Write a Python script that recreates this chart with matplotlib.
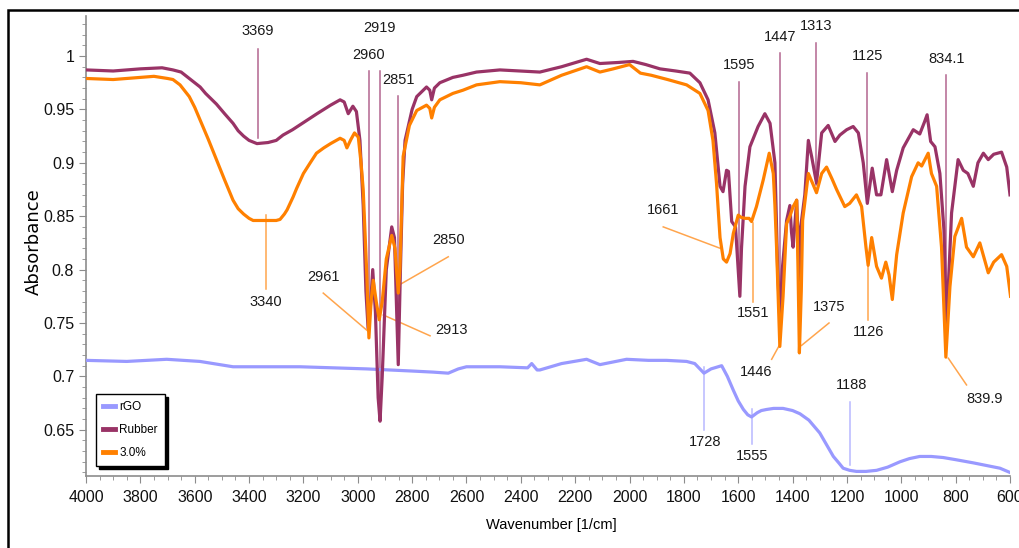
import matplotlib
matplotlib.use("Agg")
import matplotlib.pyplot as plt
from matplotlib import font_manager
from matplotlib.patches import Rectangle
from matplotlib.ticker import MultipleLocator

# narrow font if we have one, else Arial-like
have = {f.name for f in font_manager.fontManager.ttflist}
main_font = 'Liberation Sans Narrow' if 'Liberation Sans Narrow' in have else 'Liberation Sans'
plt.rcParams['font.family'] = [main_font, 'DejaVu Sans']

# --- data (wavenumber [1/cm], absorbance) ---
rgo_wn = [4000, 3850, 3703, 3581, 3459, 3213, 2967, 2800, 2723, 2667, 2630, 2600,
          2477, 2375, 2360, 2340, 2330, 2250, 2158, 2109, 2011, 1930, 1864, 1790,
          1760, 1726, 1700, 1661, 1640, 1618, 1600, 1581, 1565, 1551, 1530, 1515,
          1496, 1470, 1435, 1400, 1373, 1340, 1300, 1275, 1250, 1230, 1214, 1190,
          1165, 1130, 1091, 1050, 1005, 970, 932, 890, 846, 800, 735, 637, 600]
rgo_abs = [0.715, 0.714, 0.716, 0.714, 0.709, 0.709, 0.707, 0.705, 0.704, 0.703, 0.707, 0.709,
           0.709, 0.708, 0.712, 0.706, 0.706, 0.712, 0.716, 0.711, 0.716, 0.715, 0.715, 0.714,
           0.712, 0.703, 0.707, 0.710, 0.700, 0.687, 0.677, 0.669, 0.664, 0.662, 0.666, 0.668,
           0.669, 0.670, 0.670, 0.668, 0.665, 0.659, 0.647, 0.636, 0.625, 0.619, 0.614, 0.612,
           0.611, 0.611, 0.612, 0.615, 0.620, 0.623, 0.625, 0.625, 0.624, 0.622, 0.619, 0.614, 0.610]

rubber_wn = [4000, 3900, 3800, 3720, 3680, 3650, 3620, 3580, 3560, 3520, 3490, 3459,
             3440, 3420, 3400, 3371, 3330, 3300, 3275, 3240, 3210, 3180, 3150, 3100,
             3065, 3050, 3035, 3018, 3005, 2992, 2980, 2970, 2962, 2952, 2945, 2935,
             2925, 2918, 2910, 2895, 2875, 2865, 2858, 2851, 2843, 2835, 2826, 2800,
             2783, 2747, 2735, 2728, 2718, 2698, 2650, 2613, 2563, 2477, 2400, 2330,
             2250, 2158, 2109, 2040, 1987, 1940, 1888, 1830, 1778, 1741, 1711, 1686,
             1667, 1656, 1643, 1636, 1624, 1610, 1600, 1594, 1588, 1575, 1557, 1527,
             1502, 1483, 1465, 1455, 1447, 1438, 1422, 1410, 1404, 1398, 1385, 1380,
             1376, 1370, 1355, 1342, 1330, 1312, 1293, 1269, 1244, 1226, 1201, 1177,
             1158, 1140, 1125, 1115, 1107, 1091, 1075, 1054, 1033, 1017, 993, 956,
             932, 915, 905, 892, 876, 858, 843, 834, 826, 815, 791, 772,
             755, 735, 718, 698, 680, 660, 631, 612, 600]
rubber_abs = [0.987, 0.986, 0.988, 0.989, 0.987, 0.985, 0.979, 0.971, 0.965, 0.955, 0.946, 0.937,
              0.930, 0.925, 0.921, 0.918, 0.919, 0.921, 0.926, 0.931, 0.936, 0.941, 0.946, 0.954,
              0.959, 0.957, 0.946, 0.953, 0.948, 0.921, 0.860, 0.780, 0.745, 0.770, 0.800, 0.760,
              0.680, 0.658, 0.700, 0.800, 0.840, 0.830, 0.770, 0.711, 0.800, 0.880, 0.921, 0.950,
              0.962, 0.971, 0.968, 0.959, 0.970, 0.975, 0.980, 0.982, 0.985, 0.987, 0.986, 0.985,
              0.990, 0.997, 0.993, 0.994, 0.995, 0.992, 0.988, 0.986, 0.984, 0.975, 0.959, 0.928,
              0.878, 0.873, 0.893, 0.892, 0.845, 0.840, 0.800, 0.775, 0.820, 0.878, 0.915, 0.934,
              0.946, 0.937, 0.900, 0.800, 0.753, 0.800, 0.846, 0.860, 0.835, 0.821, 0.865, 0.830,
              0.790, 0.840, 0.870, 0.921, 0.906, 0.881, 0.928, 0.935, 0.920, 0.926, 0.931, 0.934,
              0.928, 0.900, 0.862, 0.880, 0.895, 0.870, 0.870, 0.903, 0.873, 0.893, 0.914, 0.931,
              0.927, 0.938, 0.945, 0.920, 0.915, 0.890, 0.837, 0.750, 0.790, 0.853, 0.903, 0.893,
              0.890, 0.878, 0.900, 0.909, 0.903, 0.908, 0.910, 0.896, 0.870]

comp_wn = [4000, 3900, 3800, 3750, 3700, 3680, 3654, 3620, 3600, 3580, 3550, 3520,
           3490, 3459, 3440, 3420, 3400, 3385, 3340, 3300, 3286, 3270, 3260, 3238,
           3225, 3200, 3175, 3152, 3125, 3100, 3065, 3050, 3040, 3025, 3012, 2998,
           2988, 2980, 2967, 2959, 2951, 2943, 2932, 2921, 2910, 2895, 2875, 2863,
           2851, 2845, 2833, 2810, 2783, 2747, 2735, 2728, 2718, 2698, 2650, 2613,
           2563, 2477, 2400, 2330, 2250, 2158, 2109, 2060, 2000, 1960, 1920, 1860,
           1790, 1741, 1711, 1693, 1680, 1667, 1655, 1643, 1630, 1618, 1600, 1590,
           1575, 1560, 1551, 1533, 1508, 1486, 1471, 1465, 1459, 1447, 1435, 1422,
           1410, 1398, 1385, 1380, 1375, 1368, 1363, 1342, 1325, 1312, 1293, 1275,
           1255, 1238, 1208, 1190, 1165, 1146, 1130, 1122, 1109, 1091, 1073, 1057,
           1045, 1033, 1017, 993, 962, 938, 925, 901, 889, 870, 852, 836,
           821, 803, 778, 760, 735, 711, 680, 660, 631, 612, 598]
comp_abs = [0.979, 0.978, 0.980, 0.981, 0.979, 0.978, 0.973, 0.962, 0.952, 0.940, 0.922, 0.903,
            0.884, 0.865, 0.857, 0.852, 0.848, 0.846, 0.846, 0.846, 0.847, 0.852, 0.856, 0.868,
            0.876, 0.890, 0.900, 0.909, 0.914, 0.918, 0.923, 0.921, 0.914, 0.922, 0.928, 0.924,
            0.900, 0.875, 0.797, 0.736, 0.770, 0.790, 0.770, 0.753, 0.770, 0.810, 0.832, 0.820,
            0.778, 0.800, 0.906, 0.935, 0.949, 0.954, 0.951, 0.942, 0.952, 0.959, 0.965, 0.968,
            0.973, 0.976, 0.975, 0.973, 0.982, 0.990, 0.985, 0.988, 0.992, 0.984, 0.982, 0.978,
            0.973, 0.965, 0.949, 0.921, 0.881, 0.830, 0.810, 0.807, 0.815, 0.834, 0.851, 0.849,
            0.848, 0.848, 0.845, 0.859, 0.884, 0.909, 0.890, 0.860, 0.821, 0.728, 0.775, 0.843,
            0.850, 0.859, 0.865, 0.800, 0.722, 0.780, 0.846, 0.890, 0.880, 0.872, 0.890, 0.896,
            0.885, 0.875, 0.859, 0.862, 0.870, 0.859, 0.821, 0.804, 0.830, 0.803, 0.792, 0.807,
            0.795, 0.772, 0.814, 0.853, 0.887, 0.900, 0.897, 0.909, 0.890, 0.878, 0.821, 0.718,
            0.784, 0.831, 0.848, 0.821, 0.812, 0.825, 0.797, 0.807, 0.814, 0.803, 0.775]

# peak labels: (text, text_x, text_y, line_x0, line_y0, line_x1, line_y1)
rubber_peaks = [
    ("3369", 3367, 1.023, 3367, 1.007, 3367, 0.923),
    ("2960", 2960, 1.001, 2960, 0.986, 2960, 0.743),
    ("2919", 2919, 1.026, 2919, 0.986, 2919, 0.660),
    ("2851", 2851, 0.9775, 2851, 0.963, 2851, 0.711),
    ("1595", 1597, 0.9916, 1597, 0.976, 1597, 0.781),
    ("1447", 1447, 1.018, 1447, 1.0025, 1447, 0.757),
    ("1313", 1313, 1.028, 1313, 1.012, 1313, 0.879),
    ("1125", 1125, 1.000, 1125, 0.984, 1125, 0.865),
    ("834.1", 834, 0.997, 834, 0.982, 834, 0.753),
]
comp_peaks = [
    ("3340", 3339, 0.770, 3339, 0.851, 3339, 0.782),
    ("2961", 3127, 0.793, 3127, 0.778, 2961, 0.742),
    ("2850", 2667, 0.828, 2667, 0.812, 2845, 0.786),
    ("2913", 2655, 0.743, 2734, 0.738, 2906, 0.7575),
    ("1661", 1876, 0.856, 1876, 0.840, 1667, 0.820),
    ("1551", 1545, 0.759, 1545, 0.844, 1545, 0.770),
    ("1446", 1533, 0.704, 1477, 0.716, 1449, 0.729),
    ("1375", 1266, 0.765, 1266, 0.750, 1367, 0.729),
    ("1126", 1120, 0.742, 1122, 0.803, 1122, 0.753),
    ("839.9", 693, 0.679, 760, 0.692, 827, 0.717),
]
rgo_peaks = [
    ("1728", 1723, 0.639, 1726, 0.709, 1726, 0.650),
    ("1555", 1549, 0.625, 1551, 0.669, 1551, 0.637),
    ("1188", 1183, 0.692, 1187, 0.676, 1187, 0.617),
]

c_rgo = '#9999ff'
c_rub = '#993366'
c_comp = '#ff8000'

fig = plt.figure(figsize=(10.19, 5.48), dpi=100)
ax = fig.add_axes([86/1019, 1-476/548, 924/1019, 460/548])

ax.plot(rgo_wn, rgo_abs, color=c_rgo, lw=2.3, label='rGO', zorder=3)
ax.plot(rubber_wn, rubber_abs, color=c_rub, lw=2.3, label='Rubber', zorder=3)
ax.plot(comp_wn, comp_abs, color=c_comp, lw=2.3, label='3.0%', zorder=4)

for peaks, col in [(rubber_peaks, '#b3668f'), (comp_peaks, '#ffa54d'), (rgo_peaks, '#b8b8ff')]:
    for txt, tx, ty, x0, y0, x1, y1 in peaks:
        ax.plot([x0, x1], [y0, y1], color=col, lw=1.1, zorder=2)
        ax.text(tx, ty, txt, ha='center', va='center', fontsize=10.5, color='#1a1a1a', zorder=5)

ax.set_xlim(4000, 600)
ax.set_ylim(0.6067, 1.0375)
ax.xaxis.set_major_locator(MultipleLocator(200))
ax.xaxis.set_minor_locator(MultipleLocator(50))
ax.yaxis.set_major_locator(MultipleLocator(0.05))
ax.yaxis.set_minor_locator(MultipleLocator(0.01))
ax.yaxis.set_major_formatter(plt.FuncFormatter(lambda v, p: ('%g' % round(v, 2))))

for s in ['top', 'right']:
    ax.spines[s].set_visible(False)
for s in ['left', 'bottom']:
    ax.spines[s].set_color('#8c8c8c')
    ax.spines[s].set_linewidth(1.2)
ax.tick_params(which='both', direction='out', color='#8c8c8c', labelsize=11.5, labelcolor='#111111')
ax.tick_params(which='major', length=5)
ax.tick_params(which='minor', length=3)
ax.tick_params(axis='x', pad=5)

ax.set_xlabel('Wavenumber [1/cm]', fontsize=10.5)
ax.xaxis.set_label_coords(0.504, -0.092)
ax.set_ylabel('Absorbance', fontsize=13, family='DejaVu Sans')
ax.yaxis.set_label_coords(-0.0465, 0.509)

leg = ax.legend(loc='lower left', bbox_to_anchor=(0.011, 0.022), borderaxespad=0,
                fontsize=8.5, handlelength=1.0, handletextpad=0.35, labelspacing=0.92,
                borderpad=0.6, fancybox=False, frameon=True,
                shadow={'color': 'black', 'alpha': 1})
leg.get_frame().set_edgecolor('black')
leg.get_frame().set_linewidth(1.0)
for ln in leg.get_lines():
    ln.set_linewidth(3.5)

# outer frame of the original screenshot
frame = Rectangle((8/1019, -0.2), 1.5, 1 - 10/548 + 0.2, transform=fig.transFigure,
                  fill=False, edgecolor='black', lw=1.8, clip_on=False)
fig.patches.append(frame)

fig.savefig('out.png', dpi=100)
